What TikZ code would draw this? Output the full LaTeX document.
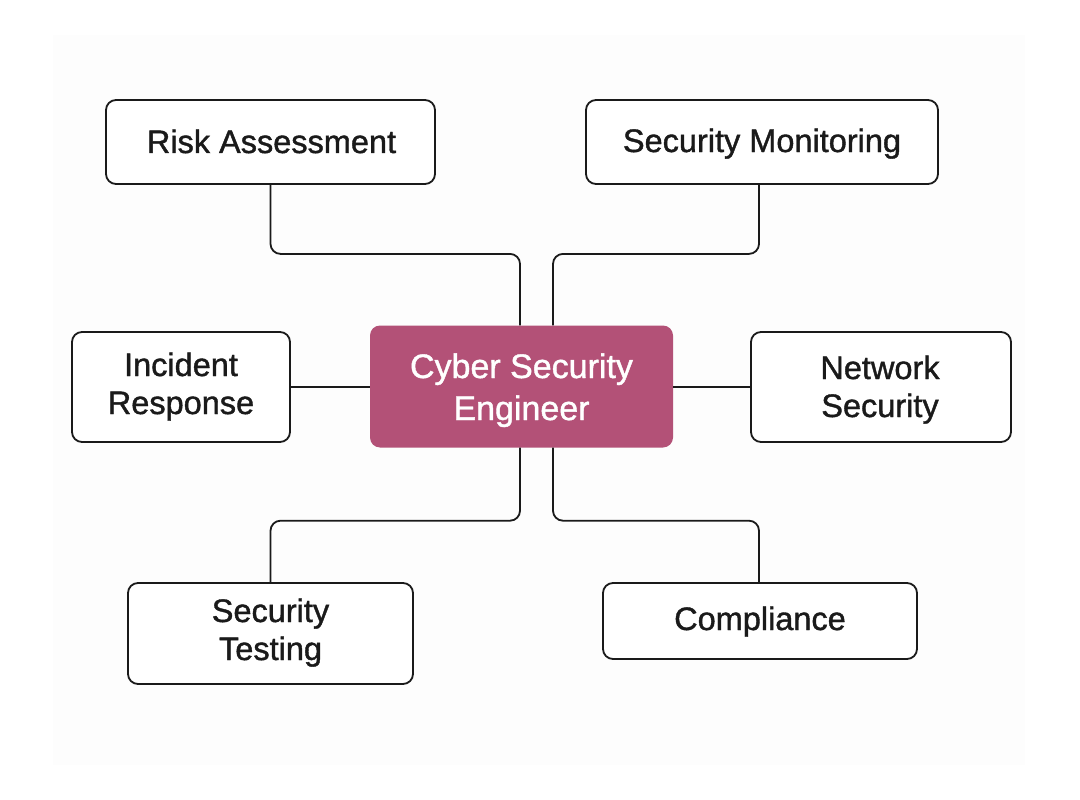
\documentclass[tikz,border=0pt]{standalone}
\usepackage{fontspec}
\setmainfont{Liberation Sans}
\newfontfamily\lblfont[FakeBold=1.2]{Liberation Sans}
\definecolor{centerfill}{HTML}{B35177}
\definecolor{inkc}{HTML}{1A1A1A}
\definecolor{bgc}{HTML}{FDFDFD}
\begin{document}
\begin{tikzpicture}[x=1pt,y=-1pt,
  box/.style={draw=inkc, line width=1.8pt, rounded corners=10pt, fill=white, inner sep=0pt},
  hub/.style={fill=centerfill, rounded corners=10pt, inner sep=0pt},
  txt/.style={anchor=base, inner sep=0pt, text=inkc, font=\lblfont\fontsize{32.5}{38}\selectfont},
  hubtxt/.style={anchor=base, inner sep=0pt, text=white, font=\lblfont\fontsize{34}{40}\selectfont},
  link/.style={draw=inkc, line width=1.8pt, rounded corners=10pt}]
\useasboundingbox (0,0) rectangle (1080,800);
\fill[white] (0,0) rectangle (1080,800);
\fill[bgc] (53,35) rectangle (1025,765);
% boxes
\node[box, minimum width=329pt, minimum height=84pt] (risk) at (270.5,142) {};
\node[box, minimum width=352pt, minimum height=84pt] (mon) at (762,142) {};
\node[box, minimum width=218pt, minimum height=110pt] (inc) at (181,387) {};
\node[box, minimum width=260pt, minimum height=110pt] (net) at (881,387) {};
\node[box, minimum width=285pt, minimum height=101pt] (test) at (270.5,633.5) {};
\node[box, minimum width=314pt, minimum height=76pt] (comp) at (760,621) {};
\node[hub, minimum width=303pt, minimum height=122pt] (hubn) at (521.5,386.5) {};
% texts
\node[txt] (riskA) at ([xshift=1pt,yshift=-11pt]risk.center) {Risk Assessment};
\node[txt] (monA) at ([yshift=-10pt]mon.center) {Security Monitoring};
\node[txt] (incA) at ([yshift=11pt]inc.center) {Incident};
\node[txt] (incB) at ([yshift=-27pt]inc.center) {Response};
\node[txt] (netA) at ([xshift=-1pt,yshift=8pt]net.center) {Network};
\node[txt] (netB) at ([xshift=-1pt,yshift=-30pt]net.center) {Security};
\node[txt] (testA) at ([yshift=11.5pt]test.center) {Security};
\node[txt] (testB) at ([yshift=-26.5pt]test.center) {Testing};
\node[txt] (compA) at ([yshift=-9pt]comp.center) {Compliance};
\node[hubtxt] (hubA) at ([yshift=8.5pt]hubn.center) {Cyber Security};
\node[hubtxt] (hubB) at ([yshift=-33.5pt]hubn.center) {Engineer};
% connectors
\draw[link] (risk.south) -- ++(0,69) -| ([xshift=-1.5pt]hubn.north);
\draw[link] ([xshift=-3pt]mon.south) -- ++(0,69) -| ([xshift=31.5pt]hubn.north);
\draw[link] (inc.east) -- (inc.east -| hubn.west);
\draw[link] (net.west) -- (net.west -| hubn.east);
\draw[link] ([xshift=-1.5pt]hubn.south) -- ++(0,73) -| (test.north);
\draw[link] ([xshift=31.5pt]hubn.south) -- ++(0,73) -| ([xshift=-1pt]comp.north);
\end{tikzpicture}
\end{document}
